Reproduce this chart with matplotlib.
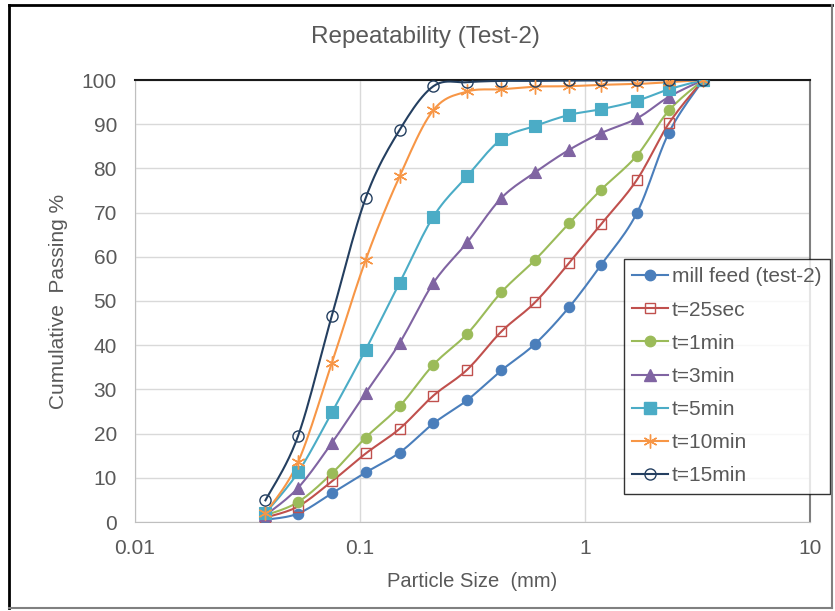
import numpy as np
import matplotlib
matplotlib.use("Agg")
from matplotlib import pyplot as plt
from matplotlib.lines import Line2D

plt.rcParams['font.family'] = ['Liberation Sans', 'DejaVu Sans']

# sieve sizes (mm) and cumulative passing (%) for each grinding time
sizes = [0.038, 0.053, 0.075, 0.106, 0.15, 0.212, 0.3, 0.425, 0.6, 0.85, 1.18, 1.7, 2.36, 3.35]
mill_feed = [0.5, 1.9, 6.5, 11.2, 15.7, 22.3, 27.6, 34.3, 40.3, 48.6, 58.2, 69.9, 88.1, 100]
t_25sec = [1.0, 3.5, 9.2, 15.5, 21.1, 28.6, 34.5, 43.1, 49.7, 58.6, 67.4, 77.4, 90.2, 100]
t_1min = [1.5, 4.5, 11.0, 19.1, 26.2, 35.6, 42.6, 52.0, 59.3, 67.6, 75.2, 82.9, 93.1, 100]
t_3min = [1.5, 7.7, 17.9, 29.2, 40.5, 54.1, 63.3, 73.3, 79.1, 84.2, 88.0, 91.3, 96.2, 100]
t_5min = [2.0, 11.2, 24.8, 39.0, 54.1, 69.1, 78.3, 86.6, 89.6, 92.1, 93.4, 95.3, 97.9, 100]
t_10min = [2.0, 13.5, 36.0, 59.3, 78.2, 93.2, 97.4, 97.9, 98.5, 98.6, 98.9, 99.1, 99.5, 100]
t_15min = [4.9, 19.4, 46.7, 73.3, 88.7, 98.6, 99.5, 99.8, 99.8, 99.9, 99.9, 100, 100, 100]

labels = ['mill feed (test-2)', 't=25sec', 't=1min', 't=3min', 't=5min', 't=10min', 't=15min']
series = [mill_feed, t_25sec, t_1min, t_3min, t_5min, t_10min, t_15min]
colors = ['#4a7ebb', '#c0504d', '#9bbb59', '#8064a2', '#4bacc6', '#f79646', '#243f60']
markers = ['o', 's', 'o', '^', 's', (6, 2, 0), 'o']
msizes = [7.5, 7.5, 7.5, 8.5, 8, 10, 8]
hollow = [False, True, False, False, False, False, True]


def smooth(x, y, n=12):
    # Catmull-Rom curve through the points, in log-x space
    lx = np.log10(x)
    y = np.asarray(y, float)
    px = np.concatenate([[lx[0]], lx, [lx[-1]]])
    py = np.concatenate([[y[0]], y, [y[-1]]])
    t = np.linspace(0, 1, n, endpoint=False)
    ox, oy = [], []
    for i in range(1, len(px) - 2):
        for p, o in ((px, ox), (py, oy)):
            p0, p1, p2, p3 = p[i - 1], p[i], p[i + 1], p[i + 2]
            o.extend(0.5 * (2 * p1 + (p2 - p0) * t
                            + (2 * p0 - 5 * p1 + 4 * p2 - p3) * t ** 2
                            + (3 * p1 - p0 - 3 * p2 + p3) * t ** 3))
    ox.append(lx[-1])
    oy.append(y[-1])
    return 10 ** np.array(ox), np.array(oy)


fig = plt.figure(figsize=(8.35, 6.11), dpi=100)
ax = fig.add_axes([135 / 835, 1 - 522 / 611, 675 / 835, 442 / 611])

handles = []
for vals, lab, c, m, ms, h in zip(series, labels, colors, markers, msizes, hollow):
    sx, sy = smooth(sizes, vals)
    ax.plot(sx, sy, color=c, lw=1.5, zorder=3)
    ax.plot(sizes, vals, ls='none', marker=m, ms=ms, color=c,
            mfc='none' if h else c, mec=c, mew=1.0 if h or m == (6, 2, 0) else 0.8, zorder=4)
    handles.append(Line2D([], [], color=c, lw=1.5, marker=m, ms=ms,
                          mfc='none' if h else c, mec=c, mew=1.0))

ax.set_xscale('log')
ax.set_xlim(0.01, 10)
ax.set_ylim(0, 100)
ax.set_yticks(np.arange(0, 101, 10))
ax.set_xticks([0.01, 0.1, 1, 10])
ax.set_xticklabels(['0.01', '0.1', '1', '10'])
ax.minorticks_off()
ax.grid(True, color='#d9d9d9', lw=1)
ax.set_axisbelow(True)
ax.tick_params(length=0, labelsize=15, labelcolor='#595959')
ax.tick_params(axis='y', pad=13)
ax.tick_params(axis='x', pad=12)
for s in ('left', 'bottom'):
    ax.spines[s].set_color('#bfbfbf')
ax.spines['top'].set_color('#1a1a1a')
ax.spines['top'].set_linewidth(1.5)
ax.spines['right'].set_color('#7f7f7f')
ax.spines['right'].set_linewidth(1.5)

ax.set_xlabel('Particle Size  (mm)', fontsize=14.5, color='#595959', labelpad=10)
ax.set_ylabel('Cumulative  Passing %', fontsize=15, color='#595959', labelpad=10)
fig.text(425 / 835, 1 - 37 / 611, 'Repeatability (Test-2)', ha='center', va='center',
         fontsize=17.5, color='#595959')

leg = ax.legend(handles, labels, loc='upper left', bbox_to_anchor=(624 / 835, 1 - 259 / 611),
                bbox_transform=fig.transFigure, fontsize=15, frameon=True, fancybox=False,
                edgecolor='black', handlelength=1.7, handletextpad=0.2, labelspacing=0.68,
                borderpad=0.4, borderaxespad=0)
leg.get_frame().set_linewidth(1.0)
for t in leg.get_texts():
    t.set_color('#595959')

# outer frame around the whole chart
fig.add_artist(Line2D([9 / 835, 9 / 835], [1 - 608 / 611, 1 - 5 / 611], color='black', lw=2))
fig.add_artist(Line2D([9 / 835, 832 / 835], [1 - 5 / 611, 1 - 5 / 611], color='black', lw=2))
fig.add_artist(Line2D([9 / 835, 832 / 835], [1 - 608 / 611, 1 - 608 / 611], color='#808080', lw=1.5))
fig.add_artist(Line2D([832 / 835, 832 / 835], [1 - 608 / 611, 1 - 5 / 611], color='#808080', lw=1.5))

fig.savefig('out.png', dpi=100)
